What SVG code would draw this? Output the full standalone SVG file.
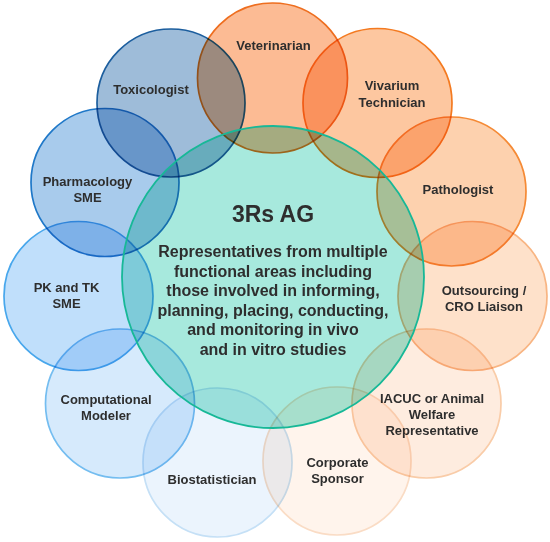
<svg xmlns="http://www.w3.org/2000/svg" width="550" height="542" viewBox="0 0 550 542">
<style>
.c{mix-blend-mode:multiply;stroke-width:1.7}
.t{font-family:"Liberation Sans",Arial,sans-serif;font-weight:bold;font-size:13px;fill:#2e2e2e;text-anchor:middle}
.m{font-size:16px}
.h{font-size:23px}
</style>
<rect width="550" height="542" fill="#ffffff"/>
<g id="veterinarian"><circle class="c" cx="272.5" cy="78" r="75" fill="#fcbb94" stroke="#ee6e1f"/><text class="t" x="273.5" y="50">Veterinarian</text></g>
<g id="vivarium"><circle class="c" cx="377.5" cy="103" r="74.5" fill="#fdc7a0" stroke="#f47a20"/><text class="t" x="392" y="90">Vivarium</text><text class="t" x="392" y="107">Technician</text></g>
<g id="pathologist"><circle class="c" cx="451.5" cy="191.5" r="74.5" fill="#fdd1ae" stroke="#f58a35"/><text class="t" x="458" y="194">Pathologist</text></g>
<g id="outsourcing"><circle class="c" cx="472.5" cy="296" r="74.5" fill="#fee1ca" stroke="#f8b583"/><text class="t" x="484" y="295">Outsourcing /</text><text class="t" x="484" y="311">CRO Liaison</text></g>
<g id="iacuc"><circle class="c" cx="426.5" cy="403.5" r="74.5" fill="#feecdf" stroke="#f9cca8"/><text class="t" x="432" y="403">IACUC or Animal</text><text class="t" x="432" y="419">Welfare</text><text class="t" x="432" y="435">Representative</text></g>
<g id="sponsor"><circle class="c" cx="337" cy="461" r="74" fill="#fff4ec" stroke="#fadcc5"/><text class="t" x="337.5" y="467">Corporate</text><text class="t" x="337.5" y="483">Sponsor</text></g>
<g id="biostatistician"><circle class="c" cx="217.5" cy="462.5" r="74.5" fill="#ebf4fd" stroke="#c5e0f6"/><text class="t" x="212" y="484">Biostatistician</text></g>
<g id="modeler"><circle class="c" cx="120" cy="403.5" r="74.5" fill="#d6eafc" stroke="#74bdf0"/><text class="t" x="106" y="404">Computational</text><text class="t" x="106" y="420">Modeler</text></g>
<g id="pktk"><circle class="c" cx="78.5" cy="296" r="74.5" fill="#c0dffb" stroke="#48a7ec"/><text class="t" x="66.5" y="292">PK and TK</text><text class="t" x="66.5" y="308">SME</text></g>
<g id="pharmacology"><circle class="c" cx="105" cy="182.5" r="74" fill="#a8cbec" stroke="#1f78c8"/><text class="t" x="87.5" y="186">Pharmacology</text><text class="t" x="87.5" y="202">SME</text></g>
<g id="toxicologist"><circle class="c" cx="171" cy="103" r="74" fill="#9ebcd9" stroke="#1c5e9e"/><text class="t" x="151" y="94">Toxicologist</text></g>
<g id="center"><circle class="c" cx="273" cy="277" r="151" fill="#8ee3d3" opacity="0.78"/>
<circle cx="273" cy="277" r="151" fill="none" stroke="#17b897" stroke-width="1.8"/>
<text class="t h" x="273" y="221.5">3Rs AG</text>
<text class="t m" x="273" y="257">Representatives from multiple</text>
<text class="t m" x="273" y="276.5">functional areas including</text>
<text class="t m" x="273" y="296">those involved in informing,</text>
<text class="t m" x="273" y="315.5">planning, placing, conducting,</text>
<text class="t m" x="273" y="335">and monitoring in vivo</text>
<text class="t m" x="273" y="354.5">and in vitro studies</text></g>
<g id="connectors"/>
</svg>
